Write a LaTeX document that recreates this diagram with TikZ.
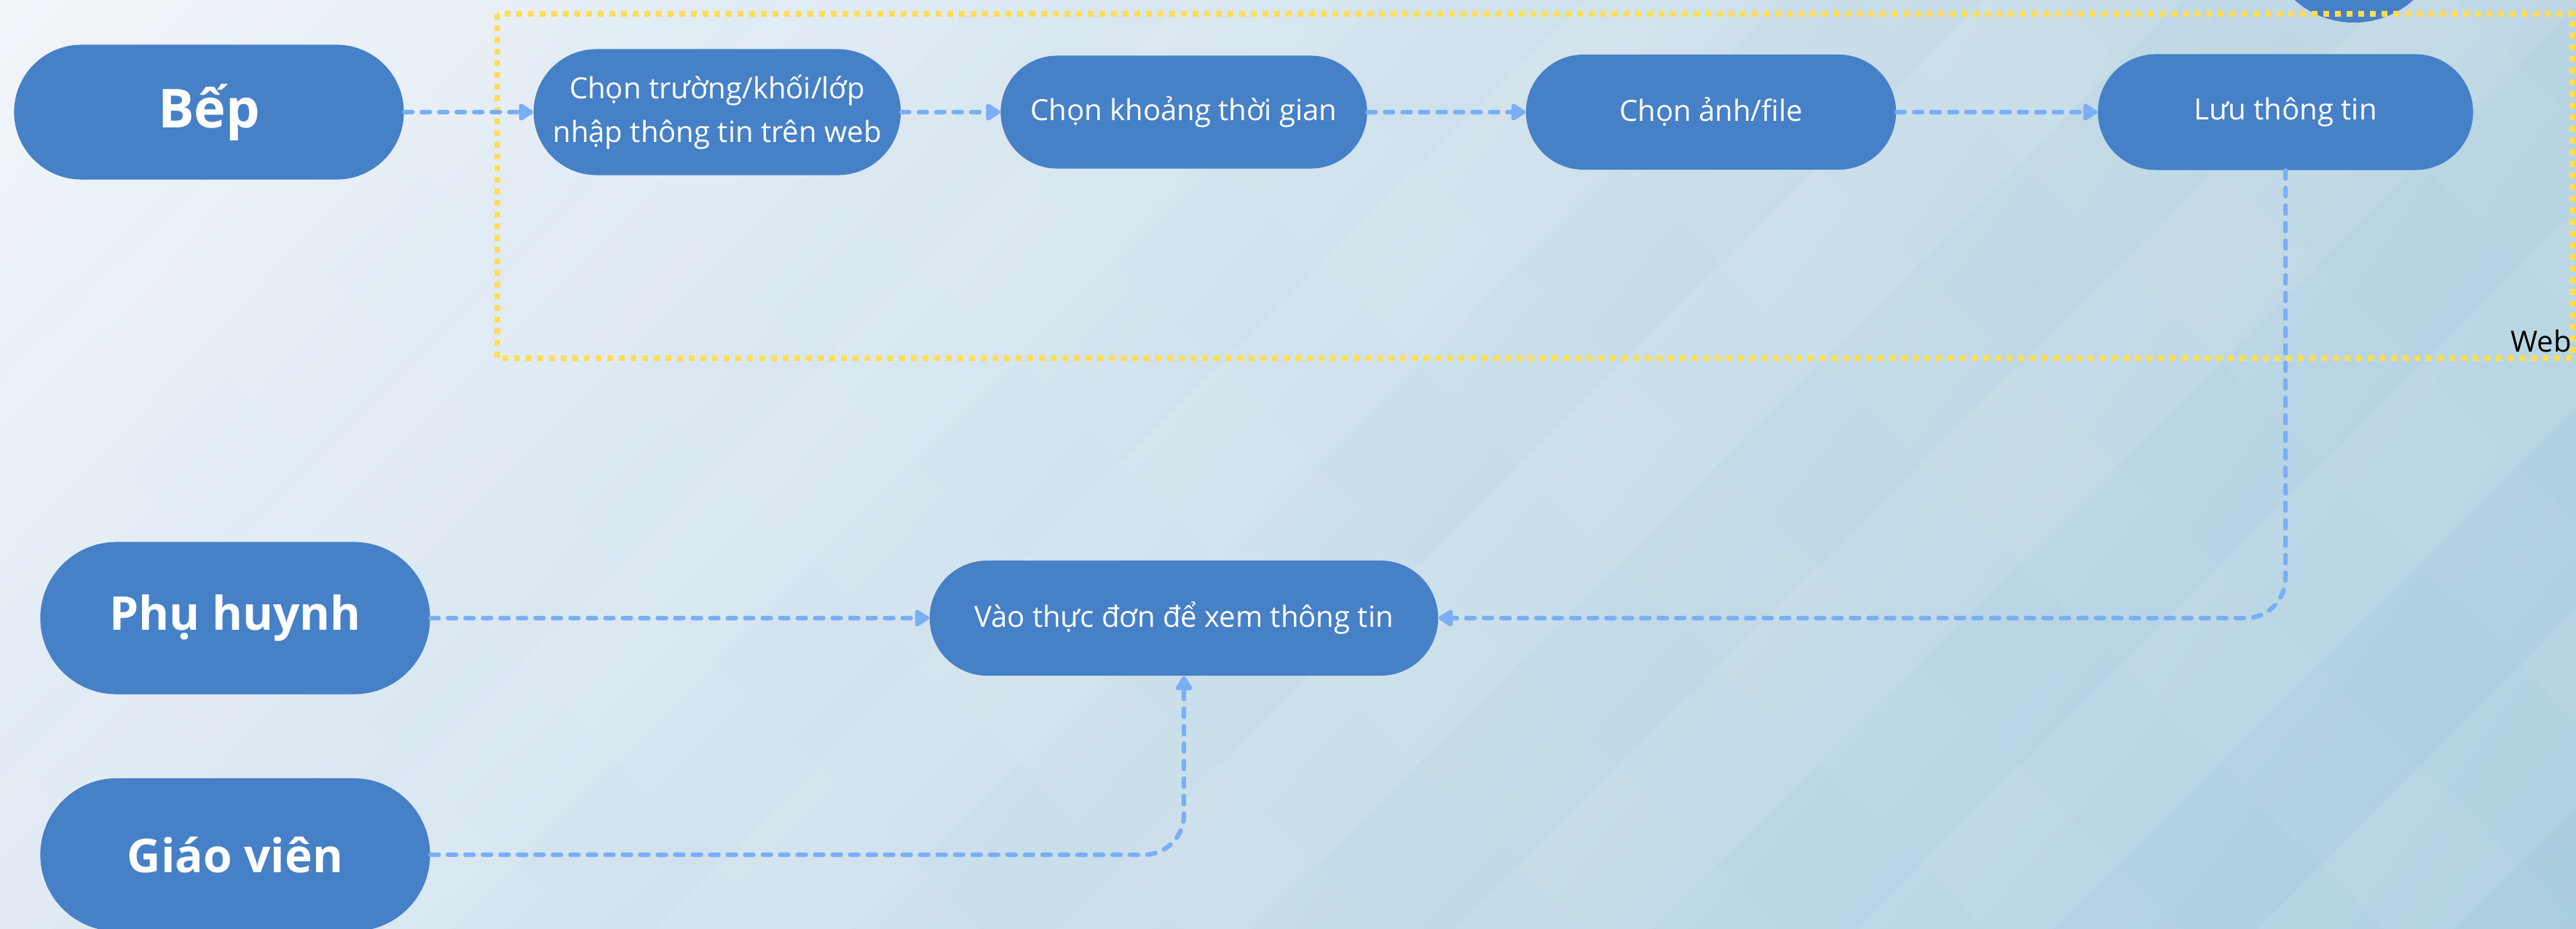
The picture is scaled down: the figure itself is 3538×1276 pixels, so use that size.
\documentclass[tikz,border=0pt]{standalone}
\usepackage{fontspec}
\setmainfont{Open Sans}
\usetikzlibrary{arrows.meta,shapes.misc,shadings}

\definecolor{boxblue}{RGB}{70,128,199}
\definecolor{flowblue}{RGB}{122,174,245}
\definecolor{webyellow}{RGB}{255,221,87}
\definecolor{bgtl}{RGB}{241,245,250}
\definecolor{bgtr}{RGB}{184,212,226}
\definecolor{bgbl}{RGB}{222,233,243}
\definecolor{bgbr}{RGB}{168,205,222}

\tikzset{
    stepbox/.style={rounded rectangle, fill=boxblue, text=white, inner sep=0pt,
        align=center, font=\fontsize{11.4}{17}\selectfont},
    actorbox/.style={stepbox, minimum width=5.35cm, font=\bfseries\fontsize{18.2}{20}\selectfont},
    flow/.style={draw=flowblue, line width=1.8pt, line cap=round,
        dash pattern=on 0.11cm off 0.13cm, rounded corners=0.55cm,
        -{Triangle[length=0.22cm,width=0.26cm,round]}}
}

\begin{document}
\begin{tikzpicture}[x=0.01cm, y=-0.01cm]
    \useasboundingbox (0,0) rectangle (3538,1276);

    % Background
    \shade[upper left=bgtl, upper right=bgtr, lower left=bgbl, lower right=bgbr]
        (0,0) rectangle (3538,1276);
    \begin{scope}
        \clip (0,0) rectangle (3538,1276);
        \foreach \s in {-1300,-750,...,3600} {
            \fill[white, opacity=0.09] (\s,1276) -- ++(1276,-1276) -- ++(270,0) -- ++(-1276,1276) -- cycle;
            \fill[white, opacity=0.04] (\s,0) -- ++(1276,1276) -- ++(270,0) -- ++(-1276,-1276) -- cycle;
        }
    \end{scope}

    % Partial circle at the top
    \fill[boxblue] (3233,-92) circle (123);

    % Web frame
    \draw[webyellow, line width=2.28pt, dash pattern=on 0.08cm off 0.08cm]
        (683,19) rectangle (3533,492);
    \node[anchor=base east, font=\fontsize{11.4}{14}\selectfont] (weblabel) at (3544,483) {Web};

    % Actors
    \node[actorbox, minimum height=1.85cm, font=\bfseries\fontsize{21}{24}\selectfont] (bep) at (287,154) {Bếp};
    \node[actorbox, minimum height=2.09cm] (phuhuynh) at (323,849) {Phụ huynh};
    \node[actorbox, minimum height=2.10cm] (giaovien) at (323,1174) {Giáo viên};

    % Steps
    \node[stepbox, minimum width=5.04cm, minimum height=1.73cm] (truong) at (985,154)
        {Chọn trường/khối/lớp\\nhập thông tin trên web};
    \node[stepbox, minimum width=5.03cm, minimum height=1.55cm] (khoang) at (1626,154) {Chọn khoảng thời gian};
    \node[stepbox, minimum width=5.08cm, minimum height=1.58cm] (anh) at (2350,154) {Chọn ảnh/file};
    \node[stepbox, minimum width=5.15cm, minimum height=1.59cm] (luu) at (3139,154) {Lưu thông tin};
    \node[stepbox, minimum width=6.98cm, minimum height=1.58cm] (xem) at (1626,849) {Vào thực đơn để xem thông tin};

    % Connectors
    \draw[flow] (bep) -- (truong);
    \draw[flow] (truong) -- (khoang);
    \draw[flow] (khoang) -- (anh);
    \draw[flow] (anh) -- (luu);
    \draw[flow] (luu) |- (xem);
    \draw[flow] (phuhuynh) -- (xem);
    \draw[flow] (giaovien) -| (xem);
\end{tikzpicture}
\end{document}
